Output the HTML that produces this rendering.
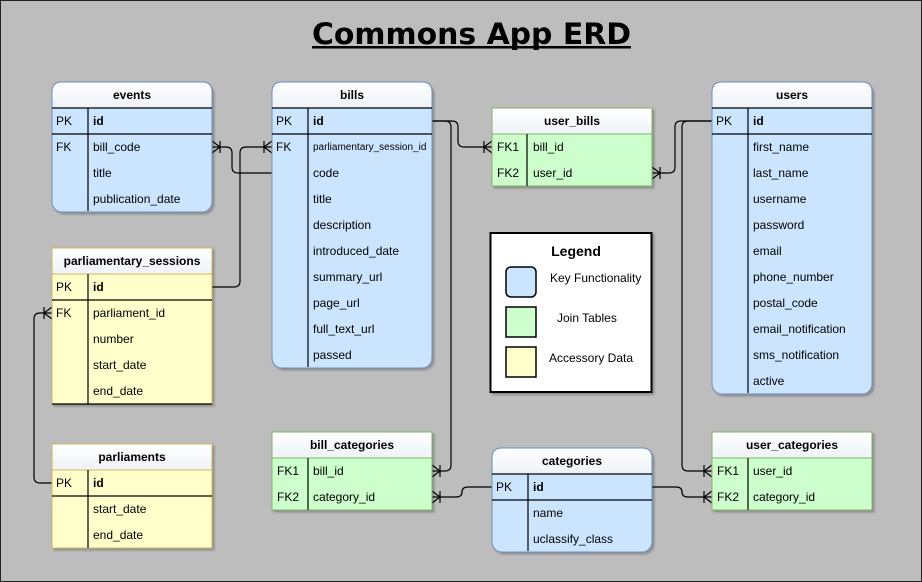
<!DOCTYPE html>
<html><head><meta charset="utf-8"><style>
html,body{margin:0;padding:0;background:#bdbdbd}
svg{display:block}
text{font-family:"Liberation Sans",Arial,sans-serif;font-size:12px;fill:#000}
.h{font-weight:bold;text-anchor:middle}
.b{font-weight:bold}
</style></head><body>
<svg width="922" height="582" viewBox="0 0 922 582" xmlns="http://www.w3.org/2000/svg">
<defs>
<linearGradient id="g" x1="0" y1="0" x2="0" y2="1"><stop offset="0" stop-color="#ffffff"/><stop offset="1" stop-color="#eef3f8"/></linearGradient>
<filter id="s" x="-5%" y="-5%" width="115%" height="115%"><feDropShadow dx="2" dy="2" stdDeviation="1" flood-color="#000" flood-opacity="0.25"/></filter>
</defs>
<rect x="0.5" y="0.5" width="921" height="581" fill="#bdbdbd" stroke="#222" stroke-width="1"/>
<text x="312" y="44" textLength="319" lengthAdjust="spacingAndGlyphs" style="font-family:'DejaVu Sans',sans-serif;font-weight:bold;font-size:29px">Commons App ERD</text>
<rect x="312" y="46" width="319" height="2.5" fill="#000"/>

<!-- connectors -->
<g fill="none" stroke="#000" stroke-width="1.2">
<path d="M212 147 H226 Q232 147 232 153 V167 Q232 173 238 173 H272"/>
<path d="M212 287 H234 Q240 287 240 281 V153 Q240 147 246 147 H272"/>
<path d="M432 121 H452 Q458 121 458 127 V141 Q458 147 464 147 H492"/>
<path d="M432 121 H445 Q451 121 451 127 V465 Q451 471 445 471 H432"/>
<path d="M712 121 H681 Q675 121 675 127 V167 Q675 173 669 173 H652"/>
<path d="M712 121 H688 Q682 121 682 127 V465 Q682 471 688 471 H712"/>
<path d="M652 487 H676 Q682 487 682 492 Q682 497 688 497 H712"/>
<path d="M492 487 H468 Q462 487 462 492 Q462 497 456 497 H432"/>
<path d="M52 483 H40 Q34 483 34 477 V319 Q34 313 40 313 H52"/>
<path d="M212 141 L220 147 L212 153 M220 141 V153"/>
<path d="M272 141 L264 147 L272 153 M264 141 V153"/>
<path d="M492 141 L484 147 L492 153 M484 141 V153"/>
<path d="M432 465 L440 471 L432 477 M440 465 V477"/>
<path d="M652 167 L660 173 L652 179 M660 167 V179"/>
<path d="M712 465 L704 471 L712 477 M704 465 V477"/>
<path d="M712 491 L704 497 L712 503 M704 491 V503"/>
<path d="M432 491 L440 497 L432 503 M440 491 V503"/>
<path d="M52 307 L44 313 L52 319 M44 307 V319"/>
</g>

<!-- events -->
<g filter="url(#s)"><rect x="52" y="82" width="160" height="130" rx="10" fill="#cce5ff" stroke="#6c8ebf"/></g>
<path d="M52 108 V92 Q52 82 62 82 H202 Q212 82 212 92 V108 Z" fill="url(#g)" stroke="#6c8ebf"/>
<g stroke="#000" stroke-width="1.2"><line x1="52" y1="108" x2="212" y2="108"/><line x1="52" y1="134" x2="212" y2="134"/><line x1="88" y1="108" x2="88" y2="211"/></g>
<text x="132" y="99" class="h">events</text>
<text x="56" y="125">PK</text><text x="93" y="125" class="b">id</text>
<text x="56" y="151">FK</text><text x="93" y="151">bill_code</text>
<text x="93" y="177">title</text><text x="93" y="203">publication_date</text>

<!-- bills -->
<g filter="url(#s)"><rect x="272" y="82" width="160" height="286" rx="10" fill="#cce5ff" stroke="#6c8ebf"/></g>
<path d="M272 108 V92 Q272 82 282 82 H422 Q432 82 432 92 V108 Z" fill="url(#g)" stroke="#6c8ebf"/>
<g stroke="#000" stroke-width="1.2"><line x1="272" y1="108" x2="432" y2="108"/><line x1="272" y1="134" x2="432" y2="134"/><line x1="308" y1="108" x2="308" y2="367"/></g>
<text x="352" y="99" class="h">bills</text>
<text x="276" y="125">PK</text><text x="313" y="125" class="b">id</text>
<text x="276" y="151">FK</text><text x="313" y="150" style="font-size:10px">parliamentary_session_id</text>
<text x="313" y="177">code</text><text x="313" y="203">title</text><text x="313" y="229">description</text>
<text x="313" y="255">introduced_date</text><text x="313" y="281">summary_url</text><text x="313" y="307">page_url</text>
<text x="313" y="333">full_text_url</text><text x="313" y="359">passed</text>

<!-- user_bills -->
<g filter="url(#s)"><rect x="492" y="108" width="160" height="78" fill="#ccffcc" stroke="#82b366"/></g>
<rect x="492" y="108" width="160" height="26" fill="url(#g)" stroke="#82b366"/>
<line x1="527" y1="134" x2="527" y2="186" stroke="#000" stroke-width="1.2"/>
<text x="572" y="125" class="h">user_bills</text>
<text x="497" y="151">FK1</text><text x="533" y="151">bill_id</text>
<text x="497" y="177">FK2</text><text x="533" y="177">user_id</text>

<!-- users -->
<g filter="url(#s)"><rect x="712" y="82" width="160" height="312" rx="10" fill="#cce5ff" stroke="#6c8ebf"/></g>
<path d="M712 108 V92 Q712 82 722 82 H862 Q872 82 872 92 V108 Z" fill="url(#g)" stroke="#6c8ebf"/>
<g stroke="#000" stroke-width="1.2"><line x1="712" y1="108" x2="872" y2="108"/><line x1="712" y1="134" x2="872" y2="134"/><line x1="748" y1="108" x2="748" y2="393"/></g>
<text x="792" y="99" class="h">users</text>
<text x="716" y="125">PK</text><text x="753" y="125" class="b">id</text>
<text x="753" y="151">first_name</text><text x="753" y="177">last_name</text><text x="753" y="203">username</text>
<text x="753" y="229">password</text><text x="753" y="255">email</text><text x="753" y="281">phone_number</text>
<text x="753" y="307">postal_code</text><text x="753" y="333">email_notification</text><text x="753" y="359">sms_notification</text>
<text x="753" y="385">active</text>

<!-- parliamentary_sessions -->
<g filter="url(#s)"><rect x="52" y="248" width="160" height="156" fill="#ffffcc" stroke="#d6b656"/></g>
<rect x="52" y="248" width="160" height="26" fill="url(#g)" stroke="#d6b656"/>
<g stroke="#000" stroke-width="1.2"><line x1="52" y1="300" x2="212" y2="300"/><line x1="88" y1="274" x2="88" y2="404"/><line x1="52" y1="404" x2="212" y2="404"/></g>
<text x="132" y="265" class="h">parliamentary_sessions</text>
<text x="56" y="291">PK</text><text x="93" y="291" class="b">id</text>
<text x="56" y="317">FK</text><text x="93" y="317">parliament_id</text>
<text x="93" y="343">number</text><text x="93" y="369">start_date</text><text x="93" y="395">end_date</text>

<!-- parliaments -->
<g filter="url(#s)"><rect x="52" y="444" width="160" height="104" fill="#ffffcc" stroke="#d6b656"/></g>
<rect x="52" y="444" width="160" height="26" fill="url(#g)" stroke="#d6b656"/>
<g stroke="#000" stroke-width="1.2"><line x1="52" y1="496" x2="212" y2="496"/><line x1="88" y1="470" x2="88" y2="548"/></g>
<text x="132" y="461" class="h">parliaments</text>
<text x="56" y="487">PK</text><text x="93" y="487" class="b">id</text>
<text x="93" y="513">start_date</text><text x="93" y="539">end_date</text>

<!-- bill_categories -->
<g filter="url(#s)"><rect x="272" y="432" width="160" height="78" fill="#ccffcc" stroke="#82b366"/></g>
<rect x="272" y="432" width="160" height="26" fill="url(#g)" stroke="#82b366"/>
<line x1="308" y1="458" x2="308" y2="510" stroke="#000" stroke-width="1.2"/>
<text x="352" y="449" class="h">bill_categories</text>
<text x="277" y="475">FK1</text><text x="313" y="475">bill_id</text>
<text x="277" y="501">FK2</text><text x="313" y="501">category_id</text>

<!-- categories -->
<g filter="url(#s)"><rect x="492" y="448" width="160" height="104" rx="10" fill="#cce5ff" stroke="#6c8ebf"/></g>
<path d="M492 474 V458 Q492 448 502 448 H642 Q652 448 652 458 V474 Z" fill="url(#g)" stroke="#6c8ebf"/>
<g stroke="#000" stroke-width="1.2"><line x1="492" y1="474" x2="652" y2="474"/><line x1="492" y1="500" x2="652" y2="500"/><line x1="528" y1="474" x2="528" y2="551"/></g>
<text x="572" y="465" class="h">categories</text>
<text x="496" y="491">PK</text><text x="533" y="491" class="b">id</text>
<text x="533" y="517">name</text><text x="533" y="543">uclassify_class</text>

<!-- user_categories -->
<g filter="url(#s)"><rect x="712" y="432" width="160" height="78" fill="#ccffcc" stroke="#82b366"/></g>
<rect x="712" y="432" width="160" height="26" fill="url(#g)" stroke="#82b366"/>
<line x1="748" y1="458" x2="748" y2="510" stroke="#000" stroke-width="1.2"/>
<text x="792" y="449" class="h">user_categories</text>
<text x="717" y="475">FK1</text><text x="753" y="475">user_id</text>
<text x="717" y="501">FK2</text><text x="753" y="501">category_id</text>

<!-- legend -->
<g filter="url(#s)"><rect x="490.5" y="233" width="161" height="159" fill="#fff" stroke="#000" stroke-width="2"/></g>
<text x="576" y="256" class="h" style="font-size:14px">Legend</text>
<rect x="506" y="267" width="30" height="30" rx="5" fill="#cce5ff" stroke="#000" stroke-width="1.5"/>
<rect x="506" y="307" width="30" height="30" fill="#ccffcc" stroke="#000" stroke-width="1.5"/>
<rect x="506" y="347" width="30" height="30" fill="#ffffcc" stroke="#000" stroke-width="1.5"/>
<text x="550" y="282">Key Functionality</text>
<text x="557" y="322">Join Tables</text>
<text x="549" y="362">Accessory Data</text>
</svg>
</body></html>
